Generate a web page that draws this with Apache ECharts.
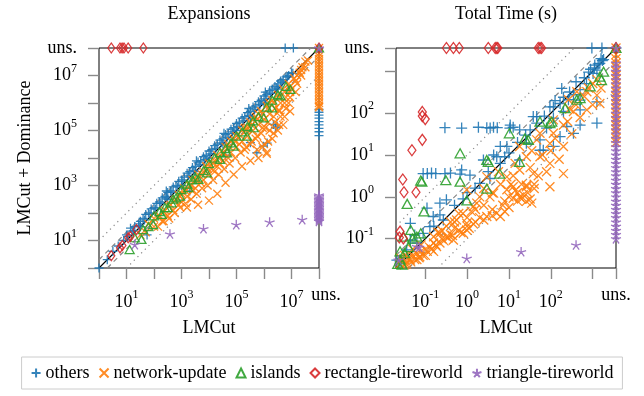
<!DOCTYPE html>
<html><head><meta charset="utf-8">
<script src="https://cdn.jsdelivr.net/npm/echarts@6.0.0/dist/echarts.min.js"></script>
<style>html,body{margin:0;padding:0;background:#fff}#c{width:644px;height:396px}</style>
</head><body><div id="c"></div>
<script>
// ---------- data ----------
const UNS_EXP = 1e8;      // "uns." position on the Expansions axes
const UNS_TIME = 3600;    // "uns." position on the Total Time axes
const MIN_EXP = 1, MIN_TIME = 0.02;
const seriesNames = ['others', 'network-update', 'islands', 'rectangle-tireworld', 'triangle-tireworld'];
const seriesColors = ['#1f77b4', '#ff7f0e', '#2ca02c', '#d62728', '#9467bd'];

const expTicks = [1, 10, 100, 1e3, 1e4, 1e5, 1e6, 1e7, 1e8];
const expXLabels = [10, 1e3, 1e5, 1e7];
const expYLabels = [10, 1e3, 1e5, 1e7, 1e8];
const timeTicks = [0.1, 1, 10, 100, 1000, 3600];
const timeLabels = [0.1, 1, 10, 100, 3600];

const expOthers = [[1,1],[2,2],[3.2,4],[5,6.3],[7.9,10],[10,16],[14,28],[16,22],[20,32],[28,40],[32,50],[40,63],[50,89],[63,100],[79,141],[100,158],[126,224],[158,251],[200,355],[251,398],[280,630],[316,562],[398,631],[501,891],[631,1000],[794,1413],[1e3,1.6e3],[1.26e3,2e3],[1.6e3,2.8e3],[2e3,3.2e3],[2.5e3,4.5e3],[3.2e3,5e3],[3.5e3,7.9e3],[4e3,7.1e3],[5e3,7.9e3],[6.3e3,1.12e4],[7.9e3,1.26e4],[1e4,1.8e4],[1.26e4,2e4],[1.6e4,2.8e4],[2e4,3.2e4],[2.5e4,4.5e4],[3.2e4,5e4],[3.5e4,7.9e4],[4e4,7.1e4],[5e4,7.9e4],[6.3e4,1.12e5],[7.9e4,1.26e5],[1e5,1.8e5],[1.26e5,2e5],[1.6e5,2.8e5],[2e5,3.2e5],[2.5e5,4.5e5],[2.8e5,6.3e5],[3.2e5,5e5],[4e5,7.1e5],[5e5,7.9e5],[6.3e5,1.12e6],[7.9e5,1.26e6],[1e6,1.8e6],[1.12e6,2.5e6],[1.26e6,2e6],[1.6e6,2.8e6],[2e6,3.2e6],[2.5e6,4e6],[3.2e6,5e6],[4e6,6.3e6],[5e6,7.1e6],[6.3e6,8.9e6],[7.9e6,1e7],[1e7,1.26e7],
  [11.2,14.1],[17.8,22.4],[28,35],[45,56],[71,89],[112,141],[178,224],[282,355],[447,562],[708,891],[1.12e3,1.41e3],[1.78e3,2.24e3],[2.8e3,3.55e3],[4.5e3,5.6e3],[7.1e3,8.9e3],[1.12e4,1.41e4],[1.78e4,2.24e4],[2.8e4,3.55e4],[4.5e4,5.6e4],[7.1e4,8.9e4],[1.12e5,1.41e5],[1.78e5,2.24e5],[2.8e5,3.55e5],[4.5e5,5.6e5],[7.1e5,8.9e5],[1.12e6,1.41e6],[1.78e6,2.24e6],[2.8e6,3.55e6],[4.5e6,5.6e6],[7.1e6,8.9e6],[1.12e7,1.2e7],
  [32,32],[316,316],[1e3,1e3],[3.2e3,3.2e3],[1e4,1e4],[3.2e4,3.2e4],[1e5,1e5],[3.2e5,3.2e5],[1e6,1e6],[3.2e6,3.2e6],
  [56,16],[2e3,630],[4e4,1.26e4],[3.2e5,3.6e4],[5.5e5,1.55e4],[1.3e6,3.5e4],[3e6,1.45e5],[2.2e6,1.66e5],[2.6e6,1.26e5],[9.5e5,2.7e4],
  [5.9e6,1e8],[1.17e7,1e8],
  [1e8,5.8e5],[1e8,4.6e5],[1e8,3.6e5],[1e8,2.8e5],[1e8,2.1e5],[1e8,1.6e5],[1e8,1.2e5],[1e8,9e4],[1e8,6.5e4],[1e8,1e8]];

const expNetwork = [[32,16],[50,20],[63,40],[100,32],[100,63],[158,79],[200,50],[251,126],[316,79],[398,200],[501,126],[631,316],[794,200],[794,447],[1e3,501],[1e3,251],[1.26e3,794],[1.6e3,398],[2e3,1e3],[2.5e3,631],[2.5e3,1.6e3],[3.2e3,1.6e3],[3.2e3,794],[4e3,2.5e3],[5e3,1.26e3],[6.3e3,3.2e3],[6.3e3,1.6e3],[7.9e3,5e3],[1e4,2.5e3],[1e4,6.3e3],[1.26e4,4e3],[1.6e4,7.9e3],[1.6e4,3.2e3],[2e4,1.26e4],[2e4,5e3],[2.5e4,6.3e3],[3.2e4,1.6e4],[3.2e4,7.9e3],[4e4,2.5e4],[5e4,1e4],[5e4,3.2e4],[6.3e4,1.6e4],[6.3e4,4e4],[7.9e4,5e4],[1e5,2.5e4],[1e5,6.3e4],[1.26e5,3.2e4],[1.6e5,1e5],[1.6e5,4e4],[2e5,2e4],[2e5,1.26e5],[2.5e5,1.26e5],[2.5e5,6.3e4],[3.2e5,2e5],[3.2e5,3.2e4],[4e5,1e5],[4e5,2.5e5],[5e5,3.2e5],[5e5,5e4],[6.3e5,1.6e5],[6.3e5,4e5],[7.9e5,5e5],[7.9e5,7.9e4],[1e6,2.5e5],[1e6,3.2e4],[1.12e6,1.26e5],[1.26e6,7.9e5],[1.26e6,1.6e4],[1.6e6,4e5],[1.6e6,1e5],[1.6e6,1e6],[2e6,1.26e6],[2e6,5e4],[2.5e6,6.3e5],[2.5e6,2e5],[3.2e6,2e6],[3.2e6,1e5],[3.5e6,5.6e5],[4e6,1e6],[4e6,3.2e5],[5e6,3.2e6],[5e6,1.6e5],[6.3e6,1.6e6],[6.3e6,6.3e5],[7.9e6,5e6],[7.9e6,1e6],[8.9e6,2.5e6],[1e7,3.2e6],[1.26e7,7.9e6],[1.6e7,5e6],[1.6e7,1e7],[2e7,1.26e7],[2.5e7,2e7],[3.2e7,3.2e7],
  [141,71],[141,32],[224,112],[224,50],[355,178],[355,63],[562,282],[562,100],[891,398],[891,158],[1.41e3,631],[1.41e3,224],[2.24e3,1e3],[2.24e3,316],[3.55e3,1.58e3],[3.55e3,501],[5.6e3,2.5e3],[5.6e3,794],[8.9e3,4e3],[8.9e3,1e3],[1.41e4,6.3e3],[1.41e4,1.58e3],[2.24e4,1e4],[2.24e4,2.5e3],[3.55e4,1.58e4],[3.55e4,4e3],[5.6e4,2.5e4],[5.6e4,6.3e3],[8.9e4,4e4],[8.9e4,1e4],[1.41e5,6.3e4],[1.41e5,1.58e4],[2.24e5,1e5],[2.24e5,2.5e4],[3.55e5,1.58e5],[3.55e5,4e4],[5.6e5,2.5e5],[5.6e5,6.3e4],[5.6e5,2e4],[8.9e5,4e5],[8.9e5,1.26e5],[8.9e5,2.5e4],[1.41e6,6.3e5],[1.41e6,2e5],[1.41e6,4e4],[2.24e6,1e6],[2.24e6,3.2e5],[2.24e6,7.9e4],[3.55e6,1.58e6],[3.55e6,5e5],[3.55e6,1.58e5],[5.6e6,2.5e6],[5.6e6,1e6],[5.6e6,3.2e5],[8.9e6,4e6],[8.9e6,1.58e6],[8.9e6,5e5],[1.41e7,6.3e6],[1.41e7,2.5e6],[2.24e7,1e7],[2.24e7,1.58e7],[3.2e7,2e7],[4e7,3.5e7],
  [1.58e3,158],[4e3,200],[1e4,282],[2e4,501],[4e4,1.26e3],[7.9e4,2.5e3],[1.58e5,5e3],[3.2e5,7.9e3],[6.3e5,1e4],[1.26e6,1.41e4],
  [1e8,6.3e7],[1e8,5e7],[1e8,4e7],[1e8,3.2e7],[1e8,2.5e7],[1e8,2e7],[1e8,1.6e7],[1e8,1.26e7],[1e8,1e7],[1e8,7.9e6],[1e8,6.3e6],[1e8,5e6],[1e8,4e6],[1e8,3.2e6],[1e8,2.5e6],[1e8,2e6],[1e8,1.6e6],[1e8,1.26e6],[1e8,1e6],[1e8,7.9e5],[1e8,7e5],[1e8,1e8]];

const expIslands = [[13,4.7],[20,12.6],[35,11],[40,25],[63,32],[93,38],[100,79],[158,112],[190,89],[251,158],[316,158],[437,234],[501,316],[631,355],[891,407],[1e3,708],[1.6e3,1.12e3],[1.78e3,832],[2.5e3,1.6e3],[3.2e3,2e3],[4.1e3,1.66e3],[6.3e3,3.5e3],[8.3e3,2.9e3],[1e4,6.3e3],[1.6e4,1e4],[2.5e4,8.9e3],[2.5e4,1.58e4],[4e4,2.2e4],[4.5e4,1.55e4],[6.3e4,3.55e4],[7.8e4,2.7e4],[1e5,6.3e4],[1.6e5,8.9e4],[2.4e5,6.2e4],[2.5e5,1.41e5],[4e5,2.24e5],[4.2e5,1.26e5],[6.3e5,3.2e5],[9.8e5,2.9e5],[1.26e6,7.1e5],[1.95e6,6.6e5],[2e6,1.26e6],[3.2e6,2e6],[4e6,1.8e6],[6.3e6,4e6],[9.1e6,3.1e6],[1e8,1e8]];

const expRect = [[2.8,2.8],[5.8,5.4],[7.1,6.6],[11.5,12.6],[14,14],[23,25],
  [2.8,1e8],[5.8,1e8],[6.9,1e8],[8.1,1e8],[11.5,1e8],[41,1e8],[1e8,1e8]];

const expTri = [[20,7.1],[380,17.4],[6.3e3,27],[9.8e4,38],[1.6e6,47],[2.45e7,58],
  [1e8,50],[1e8,56],[1e8,63],[1e8,71],[1e8,79],[1e8,89],[1e8,100],[1e8,112],[1e8,126],[1e8,141],[1e8,158],[1e8,178],[1e8,200],[1e8,224],[1e8,251],[1e8,282],[1e8,316],[1e8,355],[1e8,400],[1e8,450],[1e8,1e8]];

const timeOthers = [[0.295,45],[0.74,44],[1.86,46],[2.95,45],[3.55,44],[4.27,46],[5.25,45],[10.5,44],[12.6,46],
  [0.089,3.6],[0.112,3.6],[0.141,3.7],[0.178,3.6],[0.295,3.6],[0.40,3.7],[0.68,3.5],[1.17,3.3],
  [1480,1550],[1260,1070],[1820,1900],[1020,890],[710,510],[500,363],[347,275],[263,209],[182,389],[200,110],[115,76],[500,120],[1260,186],[240,48],[500,52],[1260,58],[79,44],[46,83],[95,141],[55,23],[10.7,52],[18,40],[66,13],[8.9,16],
  [0.74,4.4],[2.0,2.1],[1.55,1.62],[3.5,2.75],[5.1,9.1],[6.2,6.3],[0.32,0.85],[0.224,0.37],[0.155,0.34],[0.27,0.28],[0.129,0.195],[0.089,0.135],[0.056,0.123],[0.044,0.093],[0.036,0.054],[0.025,0.028],[0.021,0.031],[0.11,0.54],[0.224,0.71],[0.044,0.234],
  [2.45,7.6],[4.3,10],[6.2,16],[7.9,9.1],[18,7.6],[26,19],[46,58],[115,141],[166,170],[38,83],[500,204],[347,33],[166,27.5],[115,16],[55,13],
  [890,1120],[1120,1410],[1580,2000],[400,562],[126,200],[32,40],[16,20],[10,11.2],[3.2,4],[1,1.26],[0.5,0.63],[0.063,0.079],
  [1700,1800],[1350,1500],[1100,1200],[800,950],[630,700],[280,320],[200,240],[70,85],[25,30],[0.8,0.9],[0.16,0.2],
  [955,3600],[1660,3600],[3600,3600]];

const timeNetwork = [[724,324],[1260,269],[347,110],[115,69],[200,52],[46,23],[95,19],[26,9.1],[55,9.1],[95,6.3],[18,4.4],[38,3.6],[95,1.74],[200,3.6],[12.6,1.74],[8.9,3.0],[4.3,1.23],[2.0,1.0],[26,1.9],[417,324],[1000,513],[724,120],[1480,170],[263,209],[115,33],[55,33],[18,16],
  [18,1.0],[26,0.78],[12.6,0.93],[5.1,0.41],[2.95,0.34],[0.98,0.234],[0.81,0.135],[0.47,0.093],[0.186,0.065],[0.074,0.037],[0.036,0.028],[1.7,0.71],[8.9,1.48],[26,1.74],[0.98,1.48],[2.95,3.0],[3.5,1.0],[1.41,0.59],[0.56,0.28],[0.224,0.135],[6.2,0.34],[0.98,0.162],[0.044,0.031],
  [0.025,0.025],[0.028,0.032],[0.032,0.024],[0.04,0.035],[0.05,0.04],[0.063,0.045],[0.079,0.05],[0.1,0.056],[0.126,0.063],[0.158,0.079],[0.25,0.1],[0.32,0.112],[0.4,0.126],[0.63,0.158],[1.0,0.2],[1.58,0.25],[2.0,0.32],[0.1,0.04],[0.158,0.05],[0.063,0.032],[0.2,0.141],[0.4,0.25],[0.79,0.4],[0.5,0.178],[1.26,0.45],[0.032,0.04],
  [16,1.26],[22,1.12],[32,0.89],[10,1.0],[7.1,0.63],[4,0.5],
  [1.58,0.5],[2.5,0.63],[4,1.26],[6.3,2],[7.9,0.79],[12.6,3.2],[20,2],[32,5],[40,1.58],[50,3.2],[63,10],[79,4],[100,12.6],[126,25],[158,7.9],[200,16],[251,63],[316,32],[398,158],[501,79],[631,251],[794,398],[1000,158],[1260,631],[1580,398],[282,126],[35,12.6],[14,6.3],[5.6,4],[2.5,1.58],[0.63,0.4],[0.32,0.2],[0.158,0.112],[0.079,0.071],[0.05,0.056],
  [0.025,0.035],[0.035,0.025],[0.045,0.028],[0.056,0.032],[0.071,0.035],[0.089,0.04],[0.112,0.05],[0.141,0.056],[0.178,0.071],[0.224,0.079],[0.28,0.089],[0.355,0.105],[0.447,0.12],[0.71,0.141],[1.12,0.178],[1.41,0.224],[2.5,0.28],[4,0.355],[7.9,0.447],[10,0.56],[16,0.79],[0.25,0.158],[0.5,0.25],[1,0.32],
  [14,1.41],[20,0.89],[28,1.26],[35,0.71],[11.2,2],[40,2],
  [3600,20],[3600,25],[3600,32],[3600,40],[3600,50],[3600,63],[3600,80],[3600,100],[3600,126],[3600,158],[3600,200],[3600,251],[3600,316],[3600,400],[3600,501],[3600,631],[3600,794],[3600,1000],[3600,1260],[3600,1580],[3600,2000],[3600,2500],[3600,3600]];

const timeIslands = [[0.68,11],[0.083,2.3],[0.31,2.5],[3.2,6.9],[10.2,33],[24,25],[6.0,3.6],[17.8,6.9],[95,58],[219,132],[500,229],[871,437],[1620,617],[1820,977],[55,63],[0.078,2.45],[0.037,0.68],[0.093,0.45],[0.045,0.162],[0.078,0.135],[0.68,2.3],[2.95,7.6],[2.95,1.58],[0.98,0.83],
  [0.025,0.032],[0.022,0.025],[0.028,0.024],[0.032,0.045],[0.025,0.05],[0.04,0.063],[0.05,0.1],[0.063,0.112],[0.03,0.112],
  [105,63],[417,209],[1480,741],[29,23],[3600,3600]];

const timeRect = [[0.32,3600],[0.47,3600],[0.65,3600],[3.2,3600],[4.7,3600],[5.1,3600],[5.4,3600],[50,3600],[55,3600],[60,3600],
  [0.085,107],[0.085,85],[0.1,72],[0.085,23],[0.048,13],[0.029,2.6],[0.031,1.29],[0.06,1.29],[0.025,0.148],[0.03,0.102],[0.024,0.107],[3600,3600]];

const timeTri = [[0.98,0.034],[19.5,0.049],[400,0.071],[0.023,0.031],[0.072,0.063],[0.063,0.065],
  [3600,0.1],[3600,0.126],[3600,0.158],[3600,0.2],[3600,0.25],[3600,0.32],[3600,0.4],[3600,0.5],[3600,0.63],[3600,0.79],[3600,1.0],[3600,1.26],[3600,1.58],[3600,2.0],[3600,2.5],[3600,3.2],[3600,4.0],[3600,5.0],[3600,6.3],[3600,7.9],[3600,10],[3600,12.6],[3600,15.8],[3600,20],[3600,25],[3600,32],[3600,40],[3600,50],[3600,63],[3600,79],[3600,100],[3600,126],[3600,158],[3600,200],[3600,251],[3600,316],[3600,400],[3600,501],[3600,631],[3600,794],[3600,1000],[3600,1260],[3600,1580],[3600,3600]];

// reference lines y = k x (k = 1, 2, 1/2, 10, 1/10)
const refExp = {
  diag: [[1,1],[1e8,1e8]], up2: [[1,2],[5e7,1e8]], dn2: [[2,1],[1e8,5e7]],
  up10: [[1,10],[1e7,1e8]], dn10: [[10,1],[1e8,1e7]]
};
const refTime = {
  diag: [[0.02,0.02],[3600,3600]], up2: [[0.02,0.04],[1800,3600]], dn2: [[0.04,0.02],[3600,1800]],
  up10: [[0.02,0.2],[360,3600]], dn10: [[0.2,0.02],[3600,360]]
};

// ---------- chart ----------
const FONT = 'Liberation Serif';
const PLUS = 'path://M5,0 L5,10 M0,5 L10,5';
const CROSS = 'path://M0,0 L10,10 M0,10 L10,0';
const STAR = 'path://M0,0 L0,-1 M0,0 L0.951,-0.309 M0,0 L0.588,0.809 M0,0 L-0.588,0.809 M0,0 L-0.951,-0.309';
const symbols = [PLUS, CROSS, 'triangle', 'diamond', STAR];
const sizesExp = [9, 8, [9, 8], [7, 10], 10];
const sizesTime = [11, 9, [10, 9], [8, 11], 10];

const rich = {
  b: {fontFamily: FONT, fontSize: 18, lineHeight: 26, color: '#000'},
  s: {fontFamily: FONT, fontSize: 12, lineHeight: 12, verticalAlign: 'top', color: '#000'},
  u: {fontFamily: FONT, fontSize: 18, lineHeight: 26, color: '#000'},
  ux: {fontFamily: FONT, fontSize: 18, lineHeight: 12, color: '#000'},
  uxl: {fontFamily: FONT, fontSize: 18, lineHeight: 12, color: '#000', padding: [0, 0, 0, 14]}
};
function fmt(max, unsStyle) {
  return function (v) {
    if (v >= max * 0.99) return '{' + unsStyle + '|uns.}';
    const e = Math.round(Math.log10(v));
    return '{b|10}{s|' + e + '}';
  };
}
function axis(gi, min, max, ticks, labels, isX, unsStyle) {
  return {
    type: 'log', logBase: 10, gridIndex: gi, min: min, max: max,
    position: isX ? 'bottom' : 'left', offset: 0,
    axisLine: {show: false}, splitLine: {show: false}, minorTick: {show: false},
    axisTick: {show: ticks.length > 0, length: 11, customValues: ticks, lineStyle: {color: '#8a8a8a', width: 1.4}},
    axisLabel: {customValues: labels, margin: isX ? 21 : 22, formatter: fmt(max, unsStyle), rich: rich,
      showMinLabel: true, showMaxLabel: true, hideOverlap: false},
    name: (isX && ticks.length > 0) ? 'LMCut' : '', nameLocation: 'middle', nameGap: 51,
    nameTextStyle: {fontFamily: FONT, fontSize: 18, color: '#000'}
  };
}
function scat(i, data, gi, sizes) {
  const c = seriesColors[i];
  return {
    name: seriesNames[i], type: 'scatter', xAxisIndex: gi, yAxisIndex: gi, data: data,
    symbol: symbols[i], symbolSize: sizes[i], symbolKeepAspect: i === 4, clip: false,
    itemStyle: {color: 'rgba(255,255,255,0)', borderColor: c, borderWidth: 1.3, opacity: 0.9},
    emphasis: {disabled: true}, z: 3
  };
}
function ref(data, gi, color, type, width) {
  return {type: 'line', xAxisIndex: gi, yAxisIndex: gi, data: data, symbol: 'none', silent: true,
    lineStyle: {color: color, type: type, width: width}, z: 2, clip: false};
}
function refs(r, gi) {
  return [
    ref(r.up10, gi, '#888', [1.2, 4], 1.2), ref(r.dn10, gi, '#888', [1.2, 4], 1.2),
    ref(r.up2, gi, '#888', [5, 4], 1.2), ref(r.dn2, gi, '#888', [5, 4], 1.2),
    ref(r.diag, gi, '#000', 'solid', 1.1)
  ];
}

const expSets = [expOthers, expNetwork, expIslands, expRect, expTri];
const timeSets = [timeOthers, timeNetwork, timeIslands, timeRect, timeTri];
const series = [].concat(refs(refExp, 0), refs(refTime, 1),
  expSets.map((d, i) => scat(i, d, 0, sizesExp)),
  timeSets.map((d, i) => scat(i, d, 1, sizesTime)));

const chart = echarts.init(document.getElementById('c'), null, {renderer: 'canvas'});
chart.setOption({
  animation: false,
  backgroundColor: '#fff',
  textStyle: {fontFamily: FONT},
  grid: [
    {left: 99, top: 48, width: 220, height: 220, show: true, borderColor: '#000', borderWidth: 1, backgroundColor: 'transparent'},
    {left: 396, top: 48, width: 220, height: 220, show: true, borderColor: '#000', borderWidth: 1, backgroundColor: 'transparent'}
  ],
  xAxis: [
    axis(0, MIN_EXP, UNS_EXP, expTicks, expXLabels, true, 'ux'),
    axis(1, MIN_TIME, UNS_TIME, timeTicks, timeLabels, true, 'ux'),
    axis(0, MIN_EXP, UNS_EXP, [], [UNS_EXP], true, 'uxl')   // separate "uns." label for the left panel
  ],
  yAxis: [
    axis(0, MIN_EXP, UNS_EXP, expTicks, expYLabels, false, 'u'),
    axis(1, MIN_TIME, UNS_TIME, timeTicks, timeLabels, false, 'u')
  ],
  legend: {
    data: seriesNames, left: 'center', top: 357, selectedMode: false,
    itemWidth: 9, itemHeight: 9, itemGap: 9,
    textStyle: {fontFamily: FONT, fontSize: 18, color: '#000'},
    borderColor: '#cccccc', borderWidth: 1, padding: [7, 9]
  },
  graphic: [
    {type: 'text', x: 209, y: 14, style: {text: 'Expansions', font: '18px "Liberation Serif"', fill: '#000', textAlign: 'center', textVerticalAlign: 'middle'}},
    {type: 'text', x: 506, y: 14, style: {text: 'Total Time (s)', font: '18px "Liberation Serif"', fill: '#000', textAlign: 'center', textVerticalAlign: 'middle'}},
    {type: 'text', x: 25, y: 158, rotation: Math.PI / 2, style: {text: 'LMCut + Dominance', font: '18px "Liberation Serif"', fill: '#000', textAlign: 'center', textVerticalAlign: 'middle'}}
  ],
  series: series
});
</script>
</body></html>
